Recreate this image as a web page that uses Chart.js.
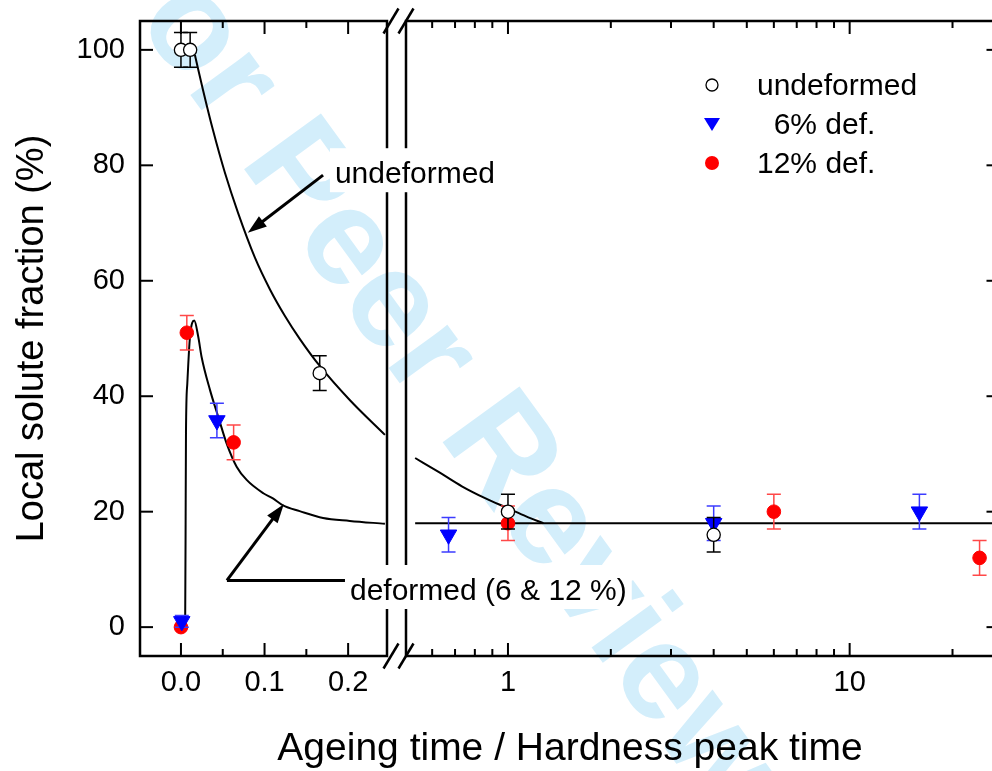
<!DOCTYPE html>
<html>
<head>
<meta charset="utf-8">
<title>Local solute fraction vs ageing time</title>
<script src="https://cdn.jsdelivr.net/npm/chart.js@4.4.0/dist/chart.umd.min.js"></script>
<style>
    html, body { margin: 0; padding: 0; background: #fff; }
    #wrap { position: relative; width: 992px; height: 771px; overflow: hidden; background: #fff; }
    #wrap canvas { position: absolute; left: 0; top: 0; }
    #watermark {
        position: absolute; left: 440px; top: 357px;
        transform: translate(-50%, -50%) rotate(54deg);
        font: bold 138px "Liberation Sans", Arial, sans-serif;
        color: #d3eefb; white-space: nowrap; line-height: 1;
    }
</style>
</head>
<body>
<div id="wrap">
    <div id="watermark">For Peer Review</div>
    <canvas id="leftCanvas" width="400" height="771"></canvas>
    <canvas id="rightCanvas" width="1010" height="771"></canvas>
</div>
<script>
const FONT = '"Liberation Sans", Arial, Helvetica, sans-serif';

// Y axis (shared by both parts)
const Y_MIN = -5, Y_MAX = 105;
const Y_TICKS = [0, 20, 40, 60, 80, 100];

// Left part of the broken x axis (linear)
const LEFT_X_MIN = -0.049, LEFT_X_MAX = 0.2465;
const LEFT_X_TICKS = [0, 0.05, 0.1, 0.15, 0.2];
const LEFT_X_LABELS = ['0.0', '', '0.1', '', '0.2'];

// Right part of the broken x axis (log)
const RIGHT_X_MIN = 0.503, RIGHT_X_MAX = 27.45;
const RIGHT_X_TICKS = [0.6, 0.7, 0.8, 0.9, 1, 2, 3, 4, 5, 6, 7, 8, 9, 10, 20];
const RIGHT_X_LABELS = ['', '', '', '', '1', '', '', '', '', '', '', '', '', '10', ''];

// Measured points - left part
const UND_L_X = [0, 0.011, 0.166];
const UND_L_Y = [100, 100, 44];
const UND_L_ERR = [3, 3, 3];
const DEF6_L_X = [0.001, 0.043];
const DEF6_L_Y = [1, 35.8];
const DEF6_L_ERR = [1, 3];
const DEF12_L_X = [0, 0.007, 0.063];
const DEF12_L_Y = [0, 51, 32];
const DEF12_L_ERR = [0, 3, 3];

// Measured points - right part
const UND_R_X = [1, 4];
const UND_R_Y = [20, 16];
const UND_R_ERR = [3, 3];
const DEF6_R_X = [0.67, 4, 16];
const DEF6_R_Y = [16, 18, 20];
const DEF6_R_ERR = [3, 3, 3];
const DEF12_R_X = [1, 6, 24];
const DEF12_R_Y = [18, 20, 12];
const DEF12_R_ERR = [3, 3, 3];

// Guide curves
const UND_CURVE_L_X = [0.0167, 0.0263, 0.0383, 0.0526, 0.0682, 0.0885, 0.1065, 0.1244, 0.1423, 0.1663, 0.2022, 0.244];
const UND_CURVE_L_Y = [99.1, 93.1, 86.1, 78.7, 71.8, 64.0, 58.5, 53.9, 49.9, 45.2, 39.3, 33.3];
const DEF_CURVE_L_X = [0.0050, 0.0055, 0.0060, 0.0076, 0.0108, 0.0159, 0.0207, 0.0247, 0.0347, 0.0447,
                       0.0547, 0.0666, 0.0786, 0.0985, 0.110, 0.122, 0.142, 0.170, 0.202, 0.244];
const DEF_CURVE_L_Y = [0, 15, 33.6, 42.2, 50.3, 53.1, 50.3, 46.8, 41.1, 36.4,
                       31.8, 27.8, 25.5, 23.2, 22.3, 21.1, 20.1, 18.9, 18.4, 17.9];
const UND_CURVE_R_X = [0.535, 0.63, 0.733, 0.86, 1.0, 1.13, 1.27];
const UND_CURVE_R_Y = [29.3, 26.8, 24.4, 22.3, 20.6, 19.2, 18.0];
const DEF_CURVE_R_X = [0.535, 28];
const DEF_CURVE_R_Y = [18, 18];

// Annotations (data units of the left part)
const UND_ARROW_X = [0.170, 0.080];
const UND_ARROW_Y = [78.3, 68.3];
const DEF_ARROW_X = [0.199, 0.055, 0.123];
const DEF_ARROW_Y = [8.1, 8.1, 21.3];
const NOTE_TEXT = ['undeformed', 'deformed (6 & 12 %)'];
const NOTE_X = [0.1842, 0.2022];
const NOTE_Y = [76.9, 4.7];

const LEGEND_LABELS = ['undeformed', '  6% def.', '12% def.'];
const X_TITLE = 'Ageing time / Hardness peak time';
const Y_TITLE = 'Local solute fraction (%)';

const toPoints = (xs, ys) => xs.map((x, i) => ({ x: x, y: ys[i] }));

// fixed axis sizes, no extra label padding so both parts line up
function fixSize(prop, size) {
    return s => {
        s[prop] = size;
        s.paddingTop = 0; s.paddingBottom = 0;
        s.paddingLeft = 0; s.paddingRight = 0;
    };
}

function undeformedSet(xs, ys, errs) {
    return {
        data: toPoints(xs, ys), errors: errs, errColor: '#000', order: 1,
        pointStyle: 'circle', pointRadius: 6.6, backgroundColor: '#fff',
        borderColor: '#000', borderWidth: 1.3, showLine: false
    };
}
function def6Set(xs, ys, errs) {
    return {
        data: toPoints(xs, ys), errors: errs, errColor: '#3c3cff', order: 2,
        pointStyle: 'triangle', rotation: 180, pointRadius: 9.5, backgroundColor: '#0000ff',
        borderColor: '#0000ff', borderWidth: 1, showLine: false
    };
}
function def12Set(xs, ys, errs) {
    return {
        data: toPoints(xs, ys), errors: errs, errColor: '#ff4848', order: 3,
        pointStyle: 'circle', pointRadius: 6.8, backgroundColor: '#ff0000',
        borderColor: '#ff0000', borderWidth: 1, showLine: false
    };
}
function curveSet(xs, ys) {
    return {
        data: toPoints(xs, ys), order: 10, showLine: true, pointRadius: 0,
        borderColor: '#000', borderWidth: 2, cubicInterpolationMode: 'monotone', fill: false
    };
}

// error bars are drawn just before the dataset they belong to
const errorBarPlugin = {
    id: 'errorBars',
    beforeDatasetDraw(chart, args) {
        const ds = chart.data.datasets[args.index];
        if (!ds.errors) return;
        const ctx = chart.ctx, ys = chart.scales.y;
        ctx.save();
        ctx.strokeStyle = ds.errColor;
        ctx.lineWidth = 1.5;
        args.meta.data.forEach((el, i) => {
            const err = ds.errors[i];
            if (!err) return;
            const top = ys.getPixelForValue(ds.data[i].y + err);
            const bot = ys.getPixelForValue(ds.data[i].y - err);
            ctx.beginPath();
            ctx.moveTo(el.x, top); ctx.lineTo(el.x, bot);
            ctx.moveTo(el.x - 7, top); ctx.lineTo(el.x + 7, top);
            ctx.moveTo(el.x - 7, bot); ctx.lineTo(el.x + 7, bot);
            ctx.stroke();
        });
        ctx.restore();
    }
};

// frame with inward ticks on every side
const framePlugin = {
    id: 'frame',
    afterDraw(chart, args, opts) {
        const { ctx, chartArea: a, scales } = chart;
        ctx.save();
        ctx.strokeStyle = '#000';
        ctx.lineWidth = 2;
        opts.xTicks.forEach((v, i) => {
            const px = scales.x.getPixelForValue(v);
            const len = opts.xLabels[i] ? 13 : 7;
            ctx.beginPath();
            ctx.moveTo(px, a.bottom); ctx.lineTo(px, a.bottom - len);
            ctx.moveTo(px, a.top); ctx.lineTo(px, a.top + len);
            ctx.stroke();
        });
        Y_TICKS.forEach(v => {
            const py = scales.y.getPixelForValue(v);
            ctx.beginPath();
            if (opts.ySide === 'left') {
                ctx.moveTo(a.left, py); ctx.lineTo(a.left + 13, py);
            } else {
                ctx.moveTo(a.right, py); ctx.lineTo(a.right - 13, py);
            }
            ctx.stroke();
        });
        ctx.lineWidth = 2.5;
        ctx.strokeRect(a.left, a.top, a.right - a.left, a.bottom - a.top);
        ctx.restore();
    }
};

function drawArrowHead(ctx, x0, y0, x1, y1) {
    const ang = Math.atan2(y1 - y0, x1 - x0);
    const c = Math.cos(ang), s = Math.sin(ang);
    const len = 19, half = 6.5;
    ctx.beginPath();
    ctx.moveTo(x0, y0);
    ctx.lineTo(x1 - c * len * 0.7, y1 - s * len * 0.7);
    ctx.stroke();
    ctx.beginPath();
    ctx.moveTo(x1, y1);
    ctx.lineTo(x1 - c * len - s * half, y1 - s * len + c * half);
    ctx.lineTo(x1 - c * len + s * half, y1 - s * len - c * half);
    ctx.closePath();
    ctx.fill();
}

// arrows pointing at the guide curves
const arrowPlugin = {
    id: 'arrows',
    afterDraw(chart) {
        const { ctx, scales } = chart;
        const px = v => scales.x.getPixelForValue(v);
        const py = v => scales.y.getPixelForValue(v);
        ctx.save();
        ctx.strokeStyle = '#000';
        ctx.fillStyle = '#000';
        ctx.lineWidth = 3;
        drawArrowHead(ctx, px(UND_ARROW_X[0]), py(UND_ARROW_Y[0]), px(UND_ARROW_X[1]), py(UND_ARROW_Y[1]));
        ctx.beginPath();
        ctx.moveTo(px(DEF_ARROW_X[0]), py(DEF_ARROW_Y[0]));
        ctx.lineTo(px(DEF_ARROW_X[1]), py(DEF_ARROW_Y[1]));
        ctx.stroke();
        drawArrowHead(ctx, px(DEF_ARROW_X[1]), py(DEF_ARROW_Y[1]), px(DEF_ARROW_X[2]), py(DEF_ARROW_Y[2]));
        ctx.restore();
    }
};

const leftChart = new Chart(document.getElementById('leftCanvas'), {
    type: 'scatter',
    data: {
        datasets: [
            undeformedSet(UND_L_X, UND_L_Y, UND_L_ERR),
            def6Set(DEF6_L_X, DEF6_L_Y, DEF6_L_ERR),
            def12Set(DEF12_L_X, DEF12_L_Y, DEF12_L_ERR),
            curveSet(UND_CURVE_L_X, UND_CURVE_L_Y),
            curveSet(DEF_CURVE_L_X, DEF_CURVE_L_Y)
        ]
    },
    options: {
        responsive: false,
        animation: false,
        layout: { padding: { left: 0, right: 13, top: 21, bottom: 0 } },
        scales: {
            x: {
                type: 'linear', min: LEFT_X_MIN, max: LEFT_X_MAX,
                afterBuildTicks: s => { s.ticks = LEFT_X_TICKS.map(v => ({ value: v })); },
                afterFit: fixSize('height', 115),
                grid: { display: false, drawTicks: false },
                border: { display: false },
                ticks: {
                    autoSkip: false, maxRotation: 0, padding: 10, color: '#000',
                    font: { family: FONT, size: 29 },
                    callback: (v, i) => LEFT_X_LABELS[i]
                }
            },
            y: {
                min: Y_MIN, max: Y_MAX,
                afterBuildTicks: s => { s.ticks = Y_TICKS.map(v => ({ value: v })); },
                afterFit: fixSize('width', 140),
                grid: { display: false, drawTicks: false },
                border: { display: false },
                ticks: {
                    padding: 15, color: '#000',
                    font: { family: FONT, size: 29 },
                    callback: v => String(v)
                },
                title: {
                    display: true, text: Y_TITLE, color: '#000',
                    font: { family: FONT, size: 38 },
                    padding: { top: 10, bottom: 0 }
                }
            }
        },
        plugins: {
            legend: { display: false },
            tooltip: { enabled: false },
            frame: { xTicks: LEFT_X_TICKS, xLabels: LEFT_X_LABELS, ySide: 'left' }
        }
    },
    plugins: [errorBarPlugin, framePlugin, arrowPlugin]
});

// legend, notes, axis break marks and x title live on the upper canvas
const overlayPlugin = {
    id: 'overlay',
    afterDraw(chart) {
        const { ctx, chartArea: a } = chart;
        ctx.save();

        // axis break marks
        ctx.strokeStyle = '#000';
        ctx.lineWidth = 2.5;
        [a.left - 15, a.left].forEach(cx => {
            [a.top, a.bottom].forEach(cy => {
                ctx.beginPath();
                ctx.moveTo(cx - 7.5, cy + 12.5);
                ctx.lineTo(cx + 7.5, cy - 12.5);
                ctx.stroke();
            });
        });

        // notes with white background
        const lx = leftChart.scales.x, ly = leftChart.scales.y;
        ctx.font = '30px ' + FONT;
        ctx.textBaseline = 'alphabetic';
        ctx.textAlign = 'left';
        NOTE_TEXT.forEach((t, i) => {
            const x = lx.getPixelForValue(NOTE_X[i]);
            const y = ly.getPixelForValue(NOTE_Y[i]);
            const w = ctx.measureText(t).width;
            ctx.fillStyle = '#fff';
            ctx.fillRect(x - 5, y - 35, w + 10, 44);
            ctx.fillStyle = '#000';
            ctx.fillText(t, x, y);
        });

        // legend
        const mx = 712, rows = [85, 124, 163];
        rows.forEach((ry, i) => {
            ctx.beginPath();
            if (i === 0) {
                ctx.arc(mx, ry, 6, 0, Math.PI * 2);
                ctx.fillStyle = '#fff'; ctx.fill();
                ctx.lineWidth = 1.3; ctx.strokeStyle = '#000'; ctx.stroke();
            } else if (i === 1) {
                ctx.moveTo(mx - 8, ry - 6); ctx.lineTo(mx + 8, ry - 6); ctx.lineTo(mx, ry + 7);
                ctx.closePath();
                ctx.fillStyle = '#0000ff'; ctx.fill();
            } else {
                ctx.arc(mx, ry, 7, 0, Math.PI * 2);
                ctx.fillStyle = '#ff0000'; ctx.fill();
            }
            ctx.fillStyle = '#000';
            ctx.fillText(LEGEND_LABELS[i], mx + 45, ry + 10);
        });

        // x axis title, centred under the whole broken axis
        ctx.font = '39px ' + FONT;
        ctx.textAlign = 'center';
        ctx.fillText(X_TITLE, 570, 760);
        ctx.restore();
    }
};

const rightChart = new Chart(document.getElementById('rightCanvas'), {
    type: 'scatter',
    data: {
        datasets: [
            undeformedSet(UND_R_X, UND_R_Y, UND_R_ERR),
            def6Set(DEF6_R_X, DEF6_R_Y, DEF6_R_ERR),
            def12Set(DEF12_R_X, DEF12_R_Y, DEF12_R_ERR),
            curveSet(UND_CURVE_R_X, UND_CURVE_R_Y),
            curveSet(DEF_CURVE_R_X, DEF_CURVE_R_Y)
        ]
    },
    options: {
        responsive: false,
        animation: false,
        layout: { padding: { left: 406, right: 10, top: 21, bottom: 0 } },
        scales: {
            x: {
                type: 'logarithmic', min: RIGHT_X_MIN, max: RIGHT_X_MAX,
                afterBuildTicks: s => { s.ticks = RIGHT_X_TICKS.map(v => ({ value: v })); },
                afterFit: fixSize('height', 115),
                grid: { display: false, drawTicks: false },
                border: { display: false },
                ticks: {
                    autoSkip: false, maxRotation: 0, padding: 10, color: '#000',
                    font: { family: FONT, size: 29 },
                    callback: (v, i) => RIGHT_X_LABELS[i]
                }
            },
            y: { display: false, min: Y_MIN, max: Y_MAX }
        },
        plugins: {
            legend: { display: false },
            tooltip: { enabled: false },
            frame: { xTicks: RIGHT_X_TICKS, xLabels: RIGHT_X_LABELS, ySide: 'right' }
        }
    },
    plugins: [errorBarPlugin, framePlugin, overlayPlugin]
});
</script>
</body>
</html>
